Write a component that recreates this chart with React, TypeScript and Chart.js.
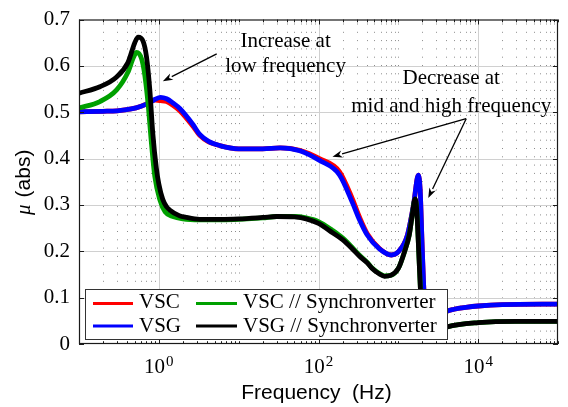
import React, { useEffect, useRef } from "react";
import { Chart, registerables } from "chart.js";

Chart.register(...registerables);

// ---------------- data ----------------
const seriesLabels = ["VSC", "VSG", "VSC // Synchronverter", "VSG // Synchronverter"];
const seriesColors = ["#ff0000", "#0000ff", "#00a000", "#000000"];
const seriesDrawOrder = [4, 3, 2, 1]; // later series drawn on top

const vscFreq = [0.1, 0.2, 0.3, 0.45, 0.6, 0.75, 0.9, 1.05, 1.25, 1.5, 1.83, 2.66, 3.25, 4.2, 5.8, 10, 20, 33, 58, 103, 183, 266, 324, 408, 580, 818, 1000, 1300, 1550, 1780, 1880, 1980, 2100, 2250, 2500, 3000, 4000, 5000, 7000, 10000, 20000, 100000];
const vscMu = [0.501, 0.502, 0.503, 0.507, 0.513, 0.52, 0.526, 0.525, 0.523, 0.515, 0.503, 0.47, 0.45, 0.436, 0.428, 0.421, 0.421, 0.423, 0.418, 0.4, 0.372, 0.313, 0.275, 0.238, 0.206, 0.192, 0.199, 0.235, 0.3, 0.364, 0.33, 0.22, 0.11, 0.05, 0.04, 0.05, 0.07, 0.075, 0.079, 0.082, 0.085, 0.086];

const vsgFreq = [0.1, 0.2, 0.3, 0.45, 0.6, 0.75, 0.9, 1.05, 1.25, 1.5, 1.83, 2.66, 3.25, 4.2, 5.8, 10, 20, 33, 58, 103, 183, 266, 324, 408, 580, 818, 1000, 1300, 1550, 1780, 1880, 1980, 2100, 2250, 2500, 3000, 4000, 5000, 7000, 10000, 20000, 100000];
const vsgMu = [0.501, 0.502, 0.503, 0.507, 0.513, 0.52, 0.528, 0.532, 0.529, 0.52, 0.508, 0.474, 0.452, 0.437, 0.428, 0.421, 0.421, 0.423, 0.417, 0.396, 0.365, 0.305, 0.269, 0.235, 0.205, 0.192, 0.199, 0.235, 0.3, 0.364, 0.33, 0.22, 0.11, 0.05, 0.04, 0.05, 0.07, 0.075, 0.079, 0.082, 0.085, 0.086];

const vscSyncFreq = [0.1, 0.183, 0.296, 0.41, 0.48, 0.526, 0.608, 0.668, 0.735, 0.81, 0.891, 1.03, 1.2, 1.5, 2, 3.25, 6, 10, 20, 30, 50, 70, 100, 150, 200, 266, 324, 408, 470, 580, 670, 800, 1000, 1200, 1370, 1500, 1620, 1700, 1800, 1900, 2000, 2300, 3000, 4100, 10000, 30000, 100000];
const vscSyncMu = [0.509, 0.523, 0.548, 0.586, 0.618, 0.629, 0.615, 0.579, 0.516, 0.431, 0.361, 0.311, 0.285, 0.275, 0.27, 0.268, 0.268, 0.269, 0.272, 0.275, 0.275, 0.272, 0.264, 0.245, 0.229, 0.208, 0.192, 0.176, 0.164, 0.152, 0.147, 0.148, 0.163, 0.2, 0.235, 0.28, 0.312, 0.29, 0.2, 0.11, 0.05, 0.025, 0.028, 0.037, 0.046, 0.049, 0.049];

const vsgSyncFreq = [0.1, 0.183, 0.296, 0.41, 0.5, 0.551, 0.636, 0.7, 0.77, 0.84, 0.93, 1.0, 1.12, 1.25, 1.37, 1.8, 2.22, 3.25, 6, 10, 20, 30, 50, 70, 100, 150, 200, 266, 324, 408, 470, 580, 670, 800, 1000, 1200, 1370, 1500, 1620, 1700, 1800, 1900, 2000, 2300, 3000, 4100, 10000, 30000, 100000];
const vsgSyncMu = [0.541, 0.555, 0.576, 0.607, 0.65, 0.662, 0.653, 0.62, 0.55, 0.455, 0.38, 0.345, 0.312, 0.296, 0.289, 0.277, 0.273, 0.269, 0.269, 0.27, 0.273, 0.275, 0.274, 0.27, 0.26, 0.24, 0.225, 0.205, 0.19, 0.175, 0.163, 0.151, 0.146, 0.148, 0.163, 0.2, 0.235, 0.28, 0.313, 0.29, 0.2, 0.11, 0.05, 0.025, 0.028, 0.037, 0.046, 0.049, 0.049];

const yTickValues = [0, 0.1, 0.2, 0.3, 0.4, 0.5, 0.6, 0.7];
const yTickLabels = ["0", "0.1", "0.2", "0.3", "0.4", "0.5", "0.6", "0.7"];
const xTickExponents = [0, 2, 4];
const xMin = 0.1;
const xMax = 100000;

const xTitle = "Frequency  (Hz)";
const yTitleSymbol = "\u03bc";
const yTitleRest = "(abs)";

// annotations in data coordinates [frequency, mu]
const annotationTexts = [
  { text: "Increase at", at: [38.7, 0.641] },
  { text: "low frequency", at: [38.7, 0.586] },
  { text: "Decrease at", at: [4600, 0.56] },
  { text: "mid and high frequency", at: [4600, 0.501] },
];
const annotationArrows = [
  { from: [5.31, 0.626], to: [1.122, 0.567] },
  { from: [7079, 0.486], to: [149.6, 0.404] },
  { from: [7079, 0.486], to: [2371, 0.315] },
];

// ---------------- helpers ----------------
const SERIF = "'Liberation Serif', 'Times New Roman', serif";
const SANS = "'Liberation Sans', Arial, sans-serif";

const toPoints = (fs: number[], ms: number[]) => fs.map((f, i) => ({ x: f, y: ms[i] }));

const minorPositions = (): number[] => {
  const out: number[] = [];
  for (let k = -1; k <= 4; k++) {
    for (let n = 1; n <= 9; n++) {
      const v = n * Math.pow(10, k);
      if (v > xMin * 1.0001 && v < xMax * 0.9999) out.push(v);
    }
  }
  return out;
};

const isMajorX = (v: number) =>
  xTickExponents.some((e) => Math.abs(Math.log10(v) - e) < 1e-6);

const overlayPlugin = {
  id: "overlay",
  beforeDatasetsDraw(chart: any) {
    const ctx = chart.ctx as CanvasRenderingContext2D;
    const { left, right, top, bottom } = chart.chartArea;
    const xs = chart.scales.x;
    const ys = chart.scales.y;
    ctx.save();
    // minor vertical dotted grid
    ctx.strokeStyle = "#8c8c8c";
    ctx.lineWidth = 1;
    ctx.setLineDash([1, 7.3]);
    for (const v of minorPositions()) {
      if (isMajorX(v)) continue;
      const px = Math.round(xs.getPixelForValue(v)) + 0.5;
      ctx.beginPath();
      ctx.moveTo(px, top + 4);
      ctx.lineTo(px, bottom);
      ctx.stroke();
    }
    ctx.setLineDash([]);
    // major grid
    ctx.strokeStyle = "#d0d0d0";
    ctx.lineWidth = 1;
    for (const e of xTickExponents) {
      const px = Math.round(xs.getPixelForValue(Math.pow(10, e))) + 0.5;
      ctx.beginPath();
      ctx.moveTo(px, top);
      ctx.lineTo(px, bottom);
      ctx.stroke();
    }
    for (const v of yTickValues) {
      if (v <= 0 || v >= 0.7) continue;
      const py = Math.round(ys.getPixelForValue(v)) + 0.5;
      ctx.beginPath();
      ctx.moveTo(left, py);
      ctx.lineTo(right, py);
      ctx.stroke();
    }
    ctx.restore();
  },
  afterDatasetsDraw(chart: any) {
    const ctx = chart.ctx as CanvasRenderingContext2D;
    const { left, right, top, bottom } = chart.chartArea;
    const xs = chart.scales.x;
    const ys = chart.scales.y;
    ctx.save();

    // frame
    ctx.strokeStyle = "#1a1a1a";
    ctx.lineWidth = 1.2;
    ctx.strokeRect(left + 0.5, top + 0.5, right - left - 1, bottom - top - 1);

    // x ticks (top and bottom, inward)
    ctx.lineWidth = 1;
    const allX = [xMin, ...minorPositions(), xMax];
    for (const v of allX) {
      const px = Math.round(xs.getPixelForValue(v)) + 0.5;
      const len = isMajorX(v) ? 5 : 2.8;
      ctx.beginPath();
      ctx.moveTo(px, bottom);
      ctx.lineTo(px, bottom - len);
      ctx.moveTo(px, top);
      ctx.lineTo(px, top + len);
      ctx.stroke();
    }
    // y ticks (left and right, inward)
    for (const v of yTickValues) {
      const py = Math.round(ys.getPixelForValue(v)) + 0.5;
      ctx.beginPath();
      ctx.moveTo(left, py);
      ctx.lineTo(left + 5, py);
      ctx.moveTo(right, py);
      ctx.lineTo(right - 5, py);
      ctx.stroke();
    }

    // x tick labels 10^e
    ctx.fillStyle = "#000";
    ctx.textBaseline = "alphabetic";
    ctx.textAlign = "left";
    for (const e of xTickExponents) {
      const px = xs.getPixelForValue(Math.pow(10, e));
      ctx.font = `21px ${SERIF}`;
      const w1 = ctx.measureText("10").width;
      ctx.font = `15px ${SERIF}`;
      const w2 = ctx.measureText(String(e)).width;
      const start = px - (w1 + w2 + 1) / 2;
      ctx.font = `21px ${SERIF}`;
      ctx.fillText("10", start, bottom + 29);
      ctx.font = `15px ${SERIF}`;
      ctx.fillText(String(e), start + w1 + 1, bottom + 22);
    }

    // x title
    ctx.font = `21px ${SANS}`;
    ctx.textAlign = "center";
    ctx.fillText(xTitle, (left + right) / 2 - 2, bottom + 55);

    // y title (rotated)
    ctx.save();
    const cy = (top + bottom) / 2 + 0.5;
    ctx.translate(30, cy);
    ctx.rotate(-Math.PI / 2);
    ctx.textAlign = "left";
    ctx.font = `italic 21px ${SERIF}`;
    const wMu = ctx.measureText(yTitleSymbol).width;
    ctx.font = `21px ${SANS}`;
    const wRest = ctx.measureText(yTitleRest).width;
    const gap = 7;
    const total = wMu + gap + wRest;
    ctx.font = `italic 21px ${SERIF}`;
    ctx.fillText(yTitleSymbol, -total / 2, 0);
    ctx.font = `21px ${SANS}`;
    ctx.fillText(yTitleRest, -total / 2 + wMu + gap, 0);
    ctx.restore();

    // annotations
    ctx.font = `21px ${SERIF}`;
    ctx.textAlign = "center";
    ctx.fillStyle = "#000";
    for (const a of annotationTexts) {
      ctx.fillText(a.text, xs.getPixelForValue(a.at[0]), ys.getPixelForValue(a.at[1]));
    }
    ctx.strokeStyle = "#000";
    ctx.lineWidth = 1.3;
    for (const a of annotationArrows) {
      const x1 = xs.getPixelForValue(a.from[0]);
      const y1 = ys.getPixelForValue(a.from[1]);
      const x2 = xs.getPixelForValue(a.to[0]);
      const y2 = ys.getPixelForValue(a.to[1]);
      const ang = Math.atan2(y2 - y1, x2 - x1);
      const L = 10;
      const W = 3.6;
      const bx = x2 - L * Math.cos(ang);
      const by = y2 - L * Math.sin(ang);
      ctx.beginPath();
      ctx.moveTo(x1, y1);
      ctx.lineTo(bx, by);
      ctx.stroke();
      ctx.beginPath();
      ctx.moveTo(x2, y2);
      ctx.lineTo(bx + W * Math.sin(ang), by - W * Math.cos(ang));
      ctx.lineTo(x2 - 7 * Math.cos(ang), y2 - 7 * Math.sin(ang));
      ctx.lineTo(bx - W * Math.sin(ang), by + W * Math.cos(ang));
      ctx.closePath();
      ctx.fill();
    }

    // legend
    const bx0 = left + 6;
    const by0 = bottom - 55;
    const bw = 363;
    const bh = 51;
    ctx.fillStyle = "#fff";
    ctx.fillRect(bx0, by0, bw, bh);
    ctx.strokeStyle = "#333";
    ctx.lineWidth = 1;
    ctx.strokeRect(bx0 + 0.5, by0 + 0.5, bw - 1, bh - 1);
    const colLine = [[bx0 + 8, bx0 + 48], [bx0 + 111, bx0 + 152]];
    const colText = [bx0 + 54, bx0 + 158];
    const rowLine = [by0 + 14.5, by0 + 37];
    const rowBase = [by0 + 19, by0 + 42.5];
    const ds = chart.data.datasets;
    ctx.font = `21px ${SERIF}`;
    ctx.textAlign = "left";
    for (let i = 0; i < ds.length; i++) {
      const col = i < 2 ? 0 : 1;
      const row = i % 2;
      ctx.strokeStyle = ds[i].borderColor;
      ctx.lineWidth = 3;
      ctx.beginPath();
      ctx.moveTo(colLine[col][0], rowLine[row]);
      ctx.lineTo(colLine[col][1], rowLine[row]);
      ctx.stroke();
      ctx.fillStyle = "#000";
      ctx.fillText(ds[i].label, colText[col], rowBase[row]);
    }

    ctx.restore();
  },
};

export default function App() {
  const canvasRef = useRef<HTMLCanvasElement | null>(null);

  useEffect(() => {
    document.body.style.margin = "0";
    const canvas = canvasRef.current;
    if (!canvas) return;
    const mk = (i: number, fs: number[], ms: number[]) => ({
      label: seriesLabels[i],
      data: toPoints(fs, ms),
      order: seriesDrawOrder[i],
      borderColor: seriesColors[i],
      backgroundColor: seriesColors[i],
      borderWidth: 4.8,
      pointRadius: 0,
      cubicInterpolationMode: "monotone" as const,
      borderJoinStyle: "round" as const,
      borderCapStyle: "round" as const,
      fill: false,
    });
    const chart = new Chart(canvas, {
      type: "line",
      data: {
        datasets: [
          mk(0, vscFreq, vscMu),
          mk(1, vsgFreq, vsgMu),
          mk(2, vscSyncFreq, vscSyncMu),
          mk(3, vsgSyncFreq, vsgSyncMu),
        ],
      },
      options: {
        animation: false,
        responsive: false,
        devicePixelRatio: 1,
        layout: { padding: { top: 13, right: 10, left: 0, bottom: 0 } },
        plugins: { legend: { display: false }, tooltip: { enabled: false } },
        scales: {
          x: {
            type: "logarithmic",
            min: xMin,
            max: xMax,
            grid: { display: false, drawTicks: false },
            border: { display: false },
            ticks: { display: false },
            afterFit: (s: any) => {
              s.height = 63;
            },
          },
          y: {
            type: "linear",
            min: 0,
            max: 0.7,
            grid: { display: false, drawTicks: false },
            border: { display: false },
            ticks: {
              stepSize: 0.1,
              autoSkip: false,
              padding: 9,
              color: "#000",
              font: { family: SERIF, size: 21, lineHeight: 1 },
              callback: (_v: any, idx: number) => yTickLabels[idx],
            },
            afterFit: (s: any) => {
              s.width = 79;
            },
          },
        },
      },
      plugins: [overlayPlugin],
    });
    return () => chart.destroy();
  }, []);

  return (
    <div style={{ width: 568, height: 407 }}>
      <canvas ref={canvasRef} width={568} height={407} style={{ display: "block" }} />
    </div>
  );
}
